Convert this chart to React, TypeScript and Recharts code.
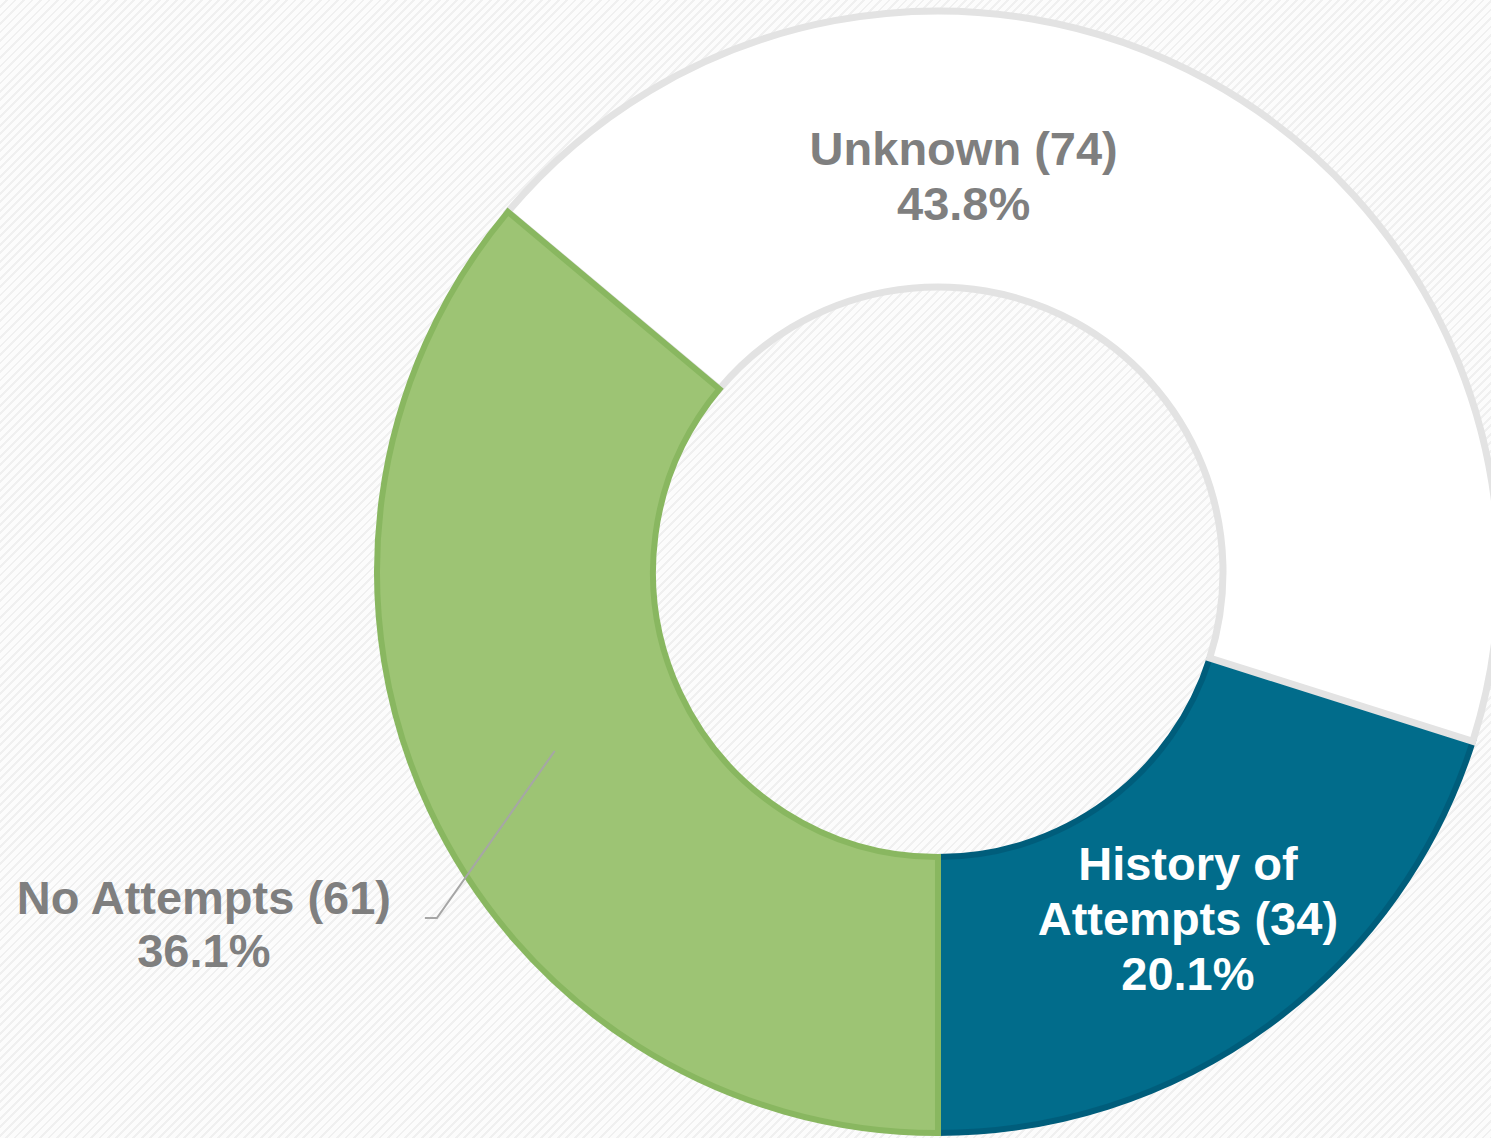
import { Cell, Pie, PieChart } from "recharts";

const categories = ["History of Attempts", "Unknown", "No Attempts"];
const counts = [34, 74, 61];
const fills = ["#016c8b", "#ffffff", "#9dc474"];
const strokes = ["#005d7b", "#e3e3e3", "#89b760"];

const data = categories.map((name, i) => ({ name, value: counts[i] }));
const total = counts.reduce((a, b) => a + b, 0);

const RADIAN = Math.PI / 180;
const FONT = "'Liberation Sans', Arial, sans-serif";
const GREY = "#7f7f7f";
const LINE_H = 55;

function pct(v: number) {
  return `${((v / total) * 100).toFixed(1)}%`;
}

function polar(cx: number, cy: number, r: number, angle: number) {
  return { x: cx + r * Math.cos(angle * RADIAN), y: cy - r * Math.sin(angle * RADIAN) };
}

function renderLabel(props: any) {
  const { cx, cy, midAngle, innerRadius, outerRadius, index, value, name } = props;
  const mid = (innerRadius + outerRadius) / 2;
  const textStyle = { fontFamily: FONT, fontWeight: 700, fontSize: 47 };

  if (index === 0) {
    // inside the dark slice, white, three lines
    const p = polar(cx, cy, mid, midAngle);
    return (
      <text x={p.x} y={p.y} textAnchor="middle" fill="#ffffff" style={textStyle}>
        <tspan x={p.x} dy={-LINE_H + 22}>History of</tspan>
        <tspan x={p.x} dy={LINE_H}>{`Attempts (${value})`}</tspan>
        <tspan x={p.x} dy={LINE_H}>{pct(value)}</tspan>
      </text>
    );
  }

  if (index === 1) {
    // sits near the top of the ring
    const p = polar(cx, cy, outerRadius - 163, 86.3);
    return (
      <text x={p.x} y={p.y} textAnchor="middle" fill={GREY} style={textStyle}>
        <tspan x={p.x} dy={-10}>{`${name} (${value})`}</tspan>
        <tspan x={p.x} dy={LINE_H}>{pct(value)}</tspan>
      </text>
    );
  }

  // outside label with leader line
  const start = polar(cx, cy, mid, midAngle);
  const elbow = polar(cx, cy, outerRadius + 48, midAngle + 9.6);
  const end = { x: elbow.x - 12, y: elbow.y };
  const tx = end.x - 221;
  return (
    <g>
      <polyline
        points={`${start.x},${start.y} ${elbow.x},${elbow.y} ${end.x},${end.y}`}
        fill="none"
        stroke="#a6a6a6"
        strokeWidth={2}
      />
      <text x={tx} y={elbow.y} textAnchor="middle" fill={GREY} style={textStyle}>
        <tspan x={tx} dy={-4}>{`${name} (${value})`}</tspan>
        <tspan x={tx} dy={LINE_H - 2}>{pct(value)}</tspan>
      </text>
    </g>
  );
}

export default function App() {
  return (
    <div
      style={{
        position: "absolute",
        left: 0,
        top: 0,
        width: 1491,
        height: 1138,
        overflow: "hidden",
        background:
          "repeating-linear-gradient(135deg, #fcfcfc 0px, #fcfcfc 4px, #f0f0f0 4px, #f0f0f0 6px)",
      }}
    >
      <PieChart width={1491} height={1138} margin={{ top: 0, right: 0, bottom: 0, left: 0 }}>
        <Pie
          data={data}
          dataKey="value"
          nameKey="name"
          cx={938}
          cy={572}
          innerRadius={285}
          outerRadius={561}
          startAngle={-90}
          endAngle={270}
          paddingAngle={0}
          label={renderLabel}
          labelLine={false}
          isAnimationActive={false}
        >
          {data.map((d, i) => (
            <Cell key={d.name} fill={fills[i]} stroke={strokes[i]} strokeWidth={i === 1 ? 7 : 6} />
          ))}
        </Pie>
      </PieChart>
    </div>
  );
}
